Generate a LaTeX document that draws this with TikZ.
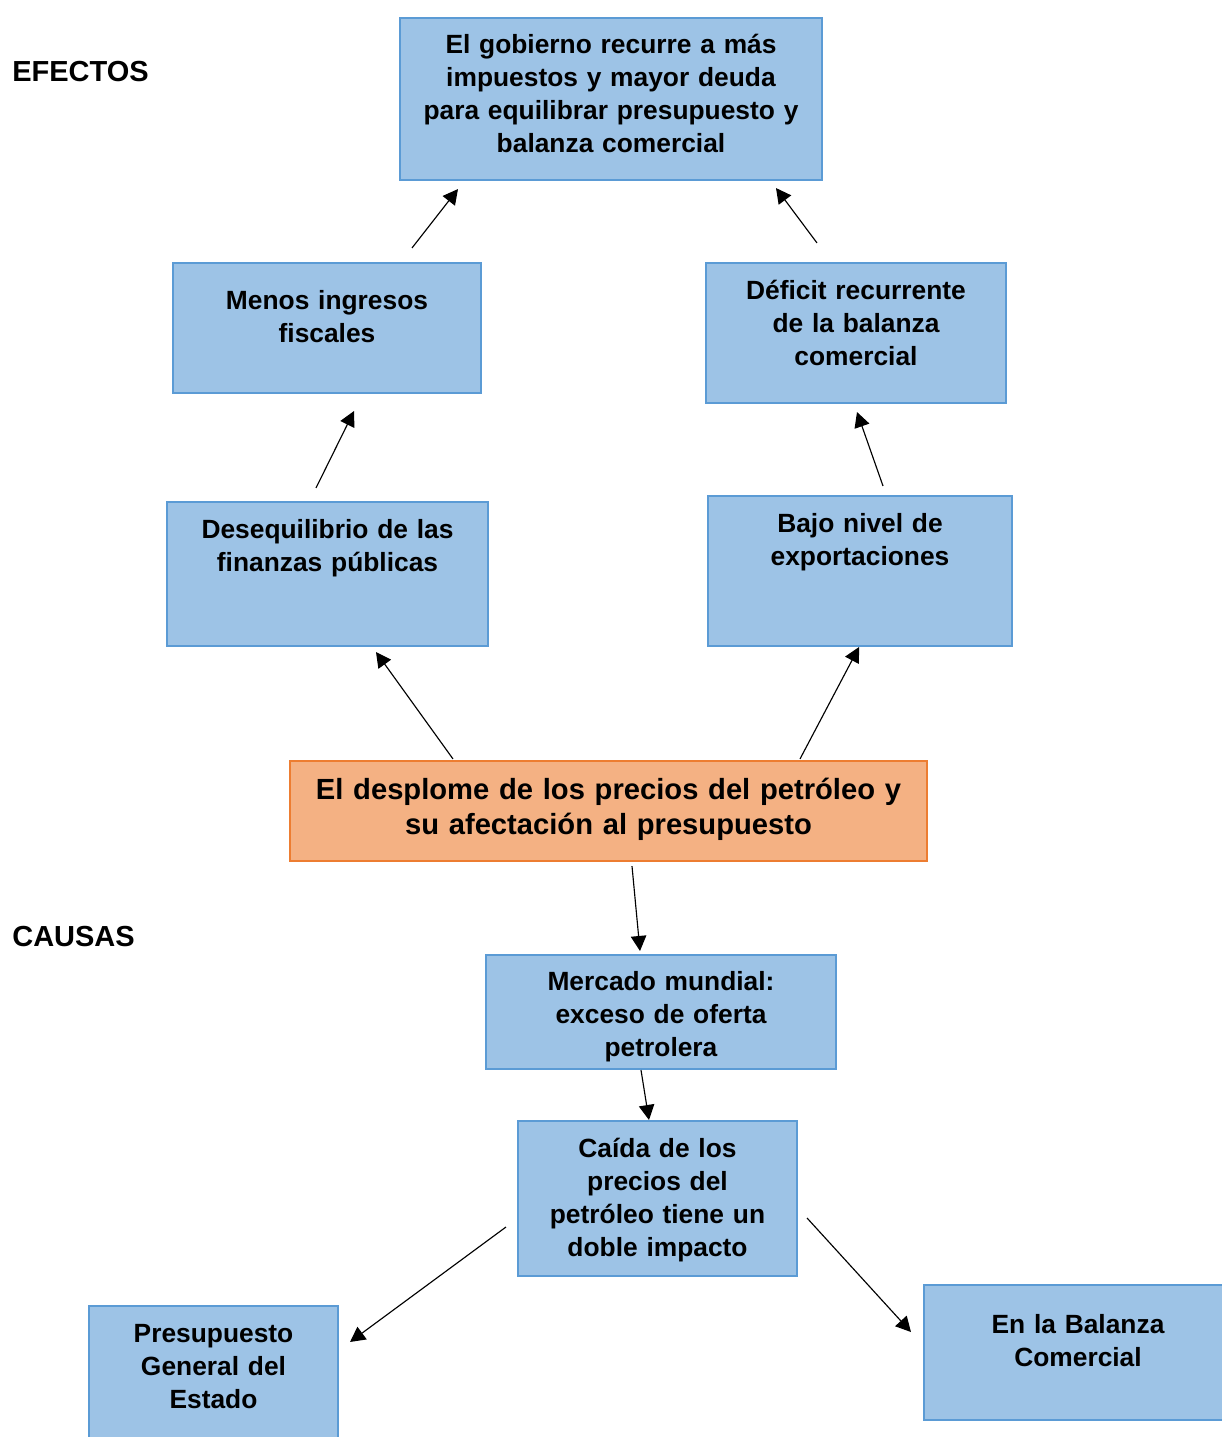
\documentclass[tikz,border=0pt]{standalone}
\usepackage{fontspec}
\setmainfont{Liberation Sans}
\usepackage{tikz}
\usetikzlibrary{arrows.meta}

\definecolor{boxfill}{HTML}{9DC3E6}
\definecolor{boxline}{HTML}{5B9BD5}
\definecolor{mainfill}{HTML}{F4B183}
\definecolor{mainline}{HTML}{ED7D31}

\begin{document}
\begin{tikzpicture}[x=0.02cm,y=-0.02cm,
		box/.style={draw=boxline,fill=boxfill,line width=1.2pt,inner sep=0pt,
			align=center,font=\bfseries\fontsize{15pt}{18.8pt}\selectfont},
		mainbox/.style={box,draw=mainline,fill=mainfill,
			font=\bfseries\fontsize{16.6pt}{20.4pt}\selectfont},
		tag/.style={anchor=base west,inner sep=0pt,font=\bfseries\fontsize{16.5pt}{20pt}\selectfont},
		arr/.style={line width=0.65pt,-{Triangle[length=0.30cm,width=0.31cm]}}]
		\clip (0,0) rectangle (1222,1437);
		
		\node[tag] (efectos) at (12,81) {EFECTOS};
		\node[tag] (causas) at (12,946) {CAUSAS};
		
		% efectos
		\node[box,text width=8.44cm,text height=0.70cm,text depth=2.54cm] (gob) at (611,99)
			{El gobierno recurre a más\\impuestos y mayor deuda\\para equilibrar presupuesto y\\balanza comercial};
		\node[box,text width=6.16cm,text height=0.92cm,text depth=1.68cm] (menos) at (327,328)
			{Menos ingresos\\fiscales};
		\node[box,text width=6.00cm,text height=0.72cm,text depth=2.08cm] (deficit) at (856,333)
			{Déficit recurrente\\de la balanza\\comercial};
		\node[box,text width=6.42cm,text height=0.72cm,text depth=2.16cm] (deseq) at (327.5,574)
			{Desequilibrio de las\\finanzas públicas};
		\node[box,text width=6.08cm,text height=0.72cm,text depth=2.28cm] (bajo) at (860,571)
			{Bajo nivel de\\exportaciones};
		
		% problema central
		\node[mainbox,text width=12.74cm,text height=0.76cm,text depth=1.24cm] (desplome) at (608.5,811)
			{El desplome de los precios del petróleo y\\su afectación al presupuesto};
		
		% causas
		\node[box,text width=7.00cm,text height=0.70cm,text depth=1.58cm] (mercado) at (661,1012)
			{Mercado mundial:\\exceso de oferta\\petrolera};
		\node[box,text width=5.58cm,text height=0.72cm,text depth=2.38cm] (caida) at (657.5,1198.5)
			{Caída de los\\precios del\\petróleo tiene un\\doble impacto};
		\node[box,text width=4.98cm,text height=0.72cm,text depth=2.16cm] (presup) at (213.5,1378)
			{Presupuesto\\General del\\Estado};
		\node[box,text width=6.16cm,text height=0.96cm,text depth=1.74cm] (balanza) at (1078,1352.5)
			{En la Balanza\\Comercial};
		
		\draw[arr] ([shift={(85,-14)}]menos.north) -- ([shift={(-153,8)}]gob.south);
		\draw[arr] ([shift={(-39,-19)}]deficit.north) -- ([shift={(165,7)}]gob.south);
		\draw[arr] ([shift={(-11.5,-13)}]deseq.north) -- ([shift={(27,17)}]menos.south);
		\draw[arr] ([shift={(23,-9)}]bajo.north) -- ([shift={(1,8)}]deficit.south);
		\draw[arr] ([shift={(-155.5,-1)}]desplome.north) -- ([shift={(48.5,5)}]deseq.south);
		\draw[arr] ([shift={(191.5,-1)}]desplome.north) -- ([shift={(-1,0)}]bajo.south);
		\draw[arr] ([shift={(23.5,4)}]desplome.south) -- ([shift={(-21,-3)}]mercado.north);
		\draw[arr] ([shift={(-20,0)}]mercado.south) -- ([shift={(-8.5,0)}]caida.north);
		\draw[arr] ([shift={(-11,28.5)}]caida.west) -- ([shift={(11,37)}]presup.north east);
		\draw[arr] ([shift={(9,19.5)}]caida.east) -- ([shift={(-12,-20.5)}]balanza.west);
	\end{tikzpicture}
\end{document}
